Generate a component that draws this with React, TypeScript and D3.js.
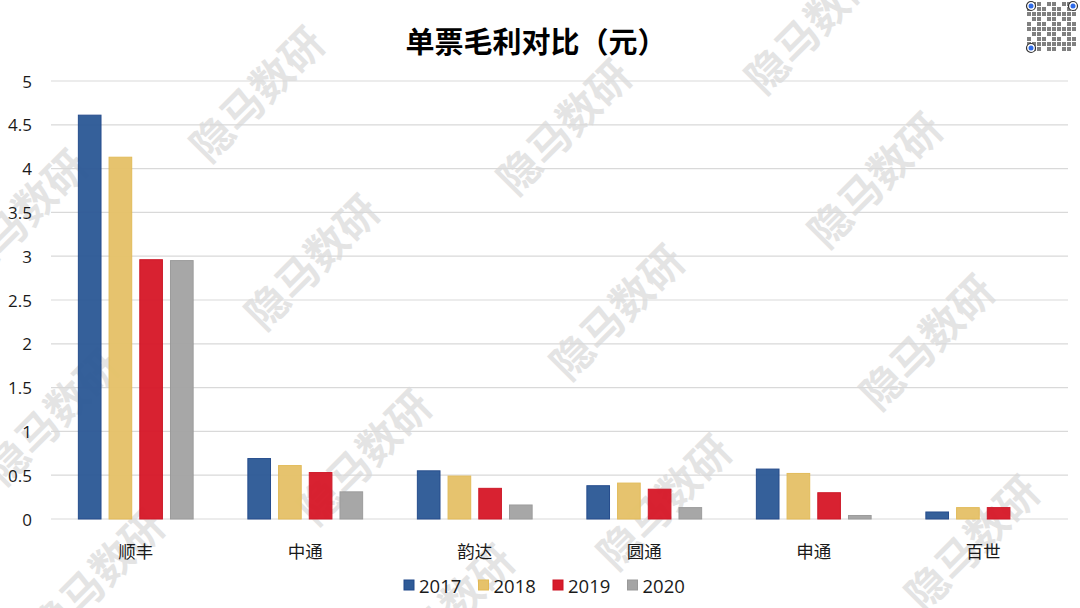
import React from "react";
import * as d3 from "d3";

const categories = ["顺丰", "中通", "韵达", "圆通", "申通", "百世"];
const seriesNames = ["2017", "2018", "2019", "2020"];
const v2017 = [4.61, 0.69, 0.55, 0.38, 0.57, 0.08];
const v2018 = [4.13, 0.61, 0.49, 0.41, 0.52, 0.13];
const v2019 = [2.96, 0.53, 0.35, 0.34, 0.3, 0.13];
const v2020 = [2.95, 0.31, 0.16, 0.13, 0.04, null];
const yTicks = [0, 0.5, 1, 1.5, 2, 2.5, 3, 3.5, 4, 4.5, 5];
const titleText = "单票毛利对比（元）";
const watermarkText = "隐马数研";

const fills = ["#2F5B97", "#E6C26A", "#D71B2B", "#A5A5A5"];
const strokes = ["#20488A", "#E2B955", "#CC1222", "#999999"];
const watermarkCenters: [number, number][] = [
  [810, 24],
  [255, 92], [562, 125], [873, 178],
  [18, 215], [310, 260], [615, 310], [925, 340],
  [50, 415], [362, 455], [662, 500], [970, 541],
  [95, 575], [445, 610],
];

const W = 1080;
const H = 608;
const FONT = "'Noto Sans CJK SC', 'Microsoft YaHei', sans-serif";
const NUMFONT = "'Open Sans', 'Noto Sans', sans-serif";

export default function App() {
  const values = [v2017, v2018, v2019, v2020];
  const x0 = d3
    .scaleBand<string>()
    .domain(categories)
    .range([51, 1068])
    .paddingInner(0.317)
    .paddingOuter(0.1585);
  const x1 = d3
    .scaleBand<string>()
    .domain(seriesNames)
    .range([0, x0.bandwidth()])
    .paddingInner(0.23);
  const y = d3.scaleLinear().domain([0, 5]).range([519, 81]);

  const legendStep = 74.5;
  const legendStart = 404;

  return (
    <svg
      width={W}
      height={H}
      style={{ position: "absolute", left: 0, top: 0, background: "#fff", fontFamily: FONT }}
    >
      <rect x={0} y={0} width={W} height={H} fill="#fff" />
      {/* watermarks */}
      {watermarkCenters.map(([cx, cy], i) => (
        <text
          key={"w" + i}
          transform={`translate(${cx},${cy}) rotate(-45)`}
          textAnchor="middle"
          dominantBaseline="central"
          fontSize={42}
          fontWeight="bold"
          fill="#000"
          opacity={0.1}
        >
          {watermarkText}
        </text>
      ))}
      {/* gridlines */}
      {yTicks.map((t) => (
        <line
          key={"g" + t}
          x1={51}
          x2={1068}
          y1={y(t)}
          y2={y(t)}
          stroke="#D9D9D9"
          strokeWidth={1.2}
        />
      ))}
      {/* tick labels */}
      {yTicks.map((t) => (
        <text
          key={"t" + t}
          x={32}
          y={y(t)}
          textAnchor="end"
          dominantBaseline="central"
          fontSize={17}
          fontFamily={NUMFONT}
          fill="#1a1a1a"
        >
          {String(t)}
        </text>
      ))}
      {/* bars */}
      {categories.map((c, ci) => (
        <g key={c} transform={`translate(${x0(c)},0)`}>
          {seriesNames.map((s, si) => {
            const v = values[si][ci];
            if (v === null || v === undefined) return null;
            return (
              <rect
                key={s}
                x={(x1(s) as number) + 0.5}
                y={y(v)}
                width={x1.bandwidth() - 1}
                height={y(0) - y(v)}
                fill={fills[si]}
                stroke={strokes[si]}
                strokeWidth={1}
                opacity={0.97}
              />
            );
          })}
        </g>
      ))}
      {/* category labels */}
      {categories.map((c) => (
        <text
          key={"c" + c}
          x={(x0(c) as number) + x0.bandwidth() / 2}
          y={550}
          textAnchor="middle"
          dominantBaseline="central"
          fontSize={17.5}
          fill="#1a1a1a"
        >
          {c}
        </text>
      ))}
      {/* legend */}
      {seriesNames.map((s, si) => (
        <g key={"l" + s} transform={`translate(${legendStart + si * legendStep},585)`}>
          <rect x={0} y={-5} width={10} height={10} fill={fills[si]} stroke={strokes[si]} />
          <text x={15} y={0} dominantBaseline="central" fontSize={18.5} fontFamily={NUMFONT} fill="#1a1a1a">
            {s}
          </text>
        </g>
      ))}
      {/* title */}
      <text x={536} y={40} textAnchor="middle" dominantBaseline="central" fontSize={29} fontWeight="bold" fill="#000">
        {titleText}
      </text>
      {/* QR placeholder */}
      <g transform="translate(1027,2)">
        <rect x={0} y={0} width={50} height={50} fill="#fff" />
        {d3.range(0, 100).map((i) => {
          const cx = i % 10;
          const cy = Math.floor(i / 10);
          const on = ((cx * 7 + cy * 13 + cx * cy) % 3) !== 0;
          return on ? (
            <rect key={i} x={cx * 5} y={cy * 5} width={4} height={4} fill="#555" opacity={0.75} />
          ) : null;
        })}
        {[
          [4, 4],
          [46, 4],
          [4, 46],
        ].map(([cx, cy], i) => (
          <g key={"q" + i}>
            <circle cx={cx} cy={cy} r={4.5} fill="#fff" stroke="#333" strokeWidth={1.2} />
            <circle cx={cx} cy={cy} r={2.5} fill="#2F6BE8" />
          </g>
        ))}
      </g>
    </svg>
  );
}
